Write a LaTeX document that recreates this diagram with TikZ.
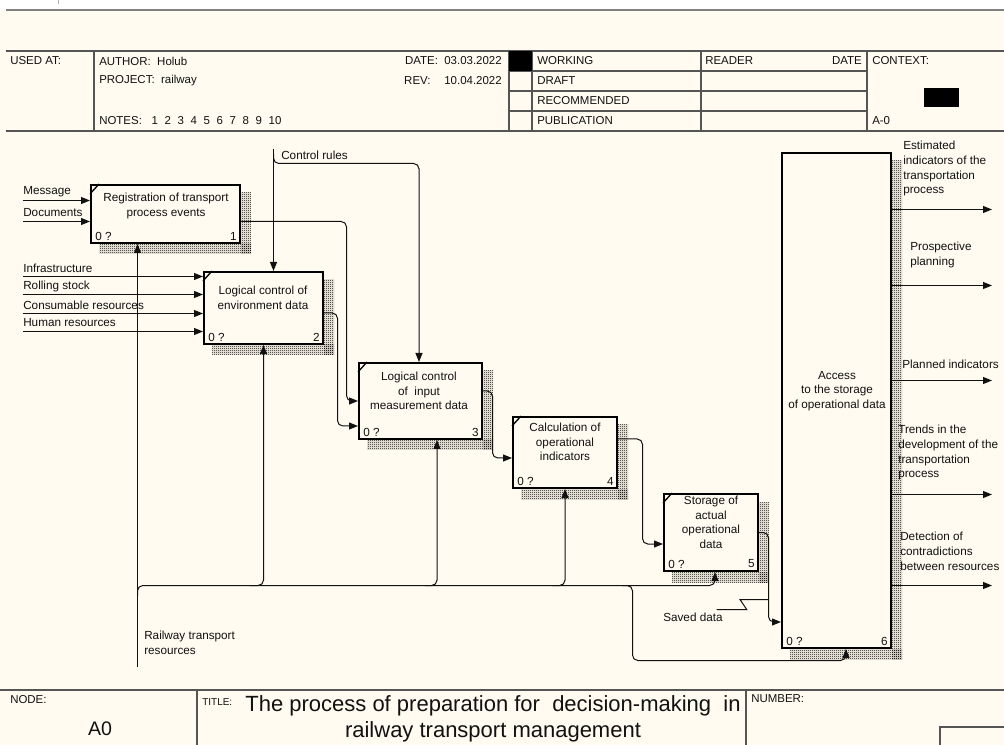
\documentclass[tikz,border=0pt]{standalone}
\usepackage{fontspec}
\setmainfont{Liberation Sans}
\usetikzlibrary{arrows.meta,calc,patterns,fit,backgrounds}

\definecolor{paper}{HTML}{FFFBF0}
\definecolor{ink}{HTML}{111111}
\definecolor{rulec}{HTML}{555555}

% fine checkerboard used for the box shadows
\pgfdeclarepatternformonly{dither}{\pgfpointorigin}{\pgfpoint{1.5pt}{1.5pt}}{\pgfpoint{1.5pt}{1.5pt}}{%
  \pgfpathrectangle{\pgfpointorigin}{\pgfpoint{0.75pt}{0.75pt}}%
  \pgfpathrectangle{\pgfpoint{0.75pt}{0.75pt}}{\pgfpoint{0.75pt}{0.75pt}}%
  \pgfusepath{fill}}

\newcommand{\ngap}{\hspace{0.58em}}

\tikzset{
  lbl/.style={font=\fontsize{8.8pt}{10.9pt}\selectfont, inner sep=0pt, text=ink},
  hdr/.style={font=\fontsize{8.6pt}{10.5pt}\selectfont, inner sep=0pt, text=ink},
  boxtxt/.style={lbl, align=center, anchor=north},
  outtxt/.style={lbl, align=left, anchor=north west, font=\fontsize{8.8pt}{11pt}\selectfont},
  actbox/.style={draw=black, line width=1.5pt, fill=paper, inner sep=0pt},
  shade/.style={pattern=dither, pattern color=black},
  conn/.style={draw=ink, line width=0.75pt, rounded corners=4pt},
  arr/.style={-{Triangle[length=6.75pt,width=5.25pt]}},
  rul/.style={draw=rulec, line width=0.9pt},
}

\begin{document}
\begin{tikzpicture}[x=0.75pt,y=-0.75pt]
\useasboundingbox (0,0) rectangle (1004,745);

% ---------- activity boxes ----------
\node[actbox, fit={(91,185)(240,243)}] (b1) {};
\node[actbox, fit={(204,272)(323,344)}] (b2) {};
\node[actbox, fit={(359,363)(482,439)}] (b3) {};
\node[actbox, fit={(513,417)(617,488)}] (b4) {};
\node[actbox, fit={(664,494)(758,571)}] (b5) {};
\node[actbox, fit={(782,153)(891,648)}] (b6) {};

% paper and box shadows behind everything
\begin{scope}[on background layer]
  \fill[white] (0,0) rectangle (1004,10);
  \fill[paper] (0,10) rectangle (1004,745);
  \foreach \b in {b1,b2,b3,b4,b5,b6}{
    \fill[shade] ($(\b.north east)+(0,9)$) rectangle ($(\b.south east)+(10,10)$);
    \fill[shade] ($(\b.south west)+(9,0)$) rectangle ($(\b.south east)+(10,10)$);
  }
\end{scope}

% corner marks of the decomposed activities
\foreach \b in {b1,b2,b3,b4,b5}{
  \draw[line width=1pt] ($(\b.north west)+(0,10)$) -- ($(\b.north west)+(9,0)$);
}

% box texts
\node[boxtxt] (t1) at (166,193) {Registration of transport\\process events};
\node[boxtxt] (t2) at (263,286) {Logical control of\\environment data};
\node[boxtxt] (t3) at (419,372) {Logical control\\of\ \ input\\measurement data};
\node[boxtxt] (t4) at (565,423) {Calculation of\\operational\\indicators};
\node[boxtxt] (t5) at (711,496) {Storage of\\actual\\operational\\data};
\node[boxtxt] (t6) at (837,371) {Access\\to the storage\\of operational data};

\foreach \b/\n in {b1/1,b2/2,b3/3,b4/4,b5/5,b6/6}{
  \node[lbl, anchor=west] (\b q) at ($(\b.south west)+(5,-8)$) {0 ?};
  \node[lbl, anchor=east] (\b n) at ($(\b.south east)+(-4,-8)$) {\n};
}

% ---------- inputs ----------
\coordinate (iMsg) at (23,200.5);
\coordinate (iDoc) at (23,221.5);
\coordinate (iInf) at (23,276.5);
\coordinate (iRol) at (23,294.5);
\coordinate (iCon) at (23,313.5);
\coordinate (iHum) at (23,331.5);
\draw[conn,arr] (iMsg) -- (iMsg -| b1.west);
\draw[conn,arr] (iDoc) -- (iDoc -| b1.west);
\draw[conn,arr] (iInf) -- (iInf -| b2.west);
\draw[conn,arr] (iRol) -- (iRol -| b2.west);
\draw[conn,arr] (iCon) -- (iCon -| b2.west);
\draw[conn,arr] (iHum) -- (iHum -| b2.west);
\node[lbl, anchor=west] (lMsg) at (23,192) {Message};
\node[lbl, anchor=west] (lDoc) at (23,213) {Documents};
\node[lbl, anchor=west] (lInf) at (23,268) {Infrastructure};
\node[lbl, anchor=west] (lRol) at (23,286) {Rolling stock};
\node[lbl, anchor=west] (lCon) at (23,305) {Consumable resources};
\node[lbl, anchor=west] (lHum) at (23,323) {Human resources};

% ---------- controls ----------
\coordinate (cTop) at (273.5,149);
\coordinate (cSplit) at (273.5,154);
\draw[conn,arr] (cTop) -- (cTop |- b2.north);
\draw[conn,arr] (cSplit) -- (273.5,163.5) -| ($(b3.north)+(-1.5,0)$);
\node[lbl, anchor=west] (lCtrl) at (281,155) {Control rules};

% ---------- flows between activities ----------
\draw[conn,arr] ($(b1.east)+(0,7.5)$) -- (346.5,221.5) -- (346.5,401) -- (b3.west);
\draw[conn,arr] ($(b2.east)+(0,5)$) -- (337.5,313) -- (337.5,426) -- ($(b3.west)+(0,25)$);
\draw[conn,arr] ($(b3.east)+(0,-10)$) -- (492.5,391) -- (492.5,458) -- ($(b4.west)+(0,5.5)$);
\draw[conn,arr] ($(b4.east)+(0,-13.5)$) -- (642.5,439) -- (642.5,544) -- ($(b5.west)+(0,11.5)$);
\draw[conn,arr] (b5.east) -- (768.5,532.5) -- (768.5,622) -- ($(b6.west)+(0,221.5)$);

% saved data squiggle
\draw[draw=ink, line width=0.75pt] (716.7,609.5) -- (746.7,609.5) -- (740,599.5) -- (768.5,599.5);
\node[lbl, anchor=west] (lSaved) at (663,617) {Saved data};

% ---------- mechanism ----------
\coordinate (mech) at (137.5,667);
\draw[conn,arr] (mech) -- (mech |- b1.south);
\draw[conn,arr] (137.5,596) -- (137.5,585.5) -| ($(b5.south)+(4,0)$);
\draw[conn,arr] (250,585.5) -| (b2.south);
\draw[conn,arr] (425,585.5) -| ($(b3.south)+(16.5,0)$);
\draw[conn,arr] (552,585.5) -| (b4.south);
\draw[conn,arr] (622,585.5) -- (632.5,585.5) -- (632.5,660.5) -| ($(b6.south)+(9.5,0)$);
\node[lbl, anchor=north west, align=left] (lRail) at (144,631) {Railway transport\\resources};

% ---------- outputs ----------
\foreach \y [count=\i] in {209.5,285.5,380.5,494.5,585.5}{
  \coordinate (o\i) at (992,\y);
  \draw[conn,arr] (b6.east |- o\i) -- (o\i);
}
\node[outtxt] (lo1) at (903,141) {Estimated\\indicators of the\\transportation\\process};
\node[outtxt] (lo2) at (910,242) {Prospective\\planning};
\node[lbl, anchor=west] (lo3) at (902,364) {Planned indicators};
\node[outtxt] (lo4) at (898,425) {Trends in the\\development of the\\transportation\\process};
\node[outtxt] (lo5) at (900,532) {Detection of\\contradictions\\between resources};

% ---------- header frame ----------
\draw[draw=gray, line width=1.5pt] (6,10) -- (1004,10);
\draw[draw=gray!60, line width=0.6pt] (58,0) -- (58,4);
\draw[rul] (6,51) -- (1004,51) (6,131) -- (1004,131)
  (94,51) -- (94,131) (509,51) -- (509,131) (532,51) -- (532,131)
  (701,51) -- (701,131) (867,51) -- (867,131)
  (509,71) -- (867,71) (509,91) -- (867,91) (509,111) -- (867,111);
\fill[black] (509,51) rectangle (532,71);
\fill[black] (924,88) rectangle (959,107);

\node[hdr, anchor=west] (hUsed) at (10,61) {USED AT:};
\node[hdr, anchor=west] (hAuth) at (99,61) {AUTHOR:\ \ Holub};
\node[hdr, anchor=west] (hProj) at (99,80.5) {PROJECT:\ \ railway};
\node[hdr, anchor=west] (hNotes) at (99,121) {NOTES:\ \ \ 1\ngap2\ngap3\ngap4\ngap5\ngap6\ngap7\ngap8\ngap9\ngap10};
\node[hdr, anchor=east] (hDate) at (502,61) {DATE:\ \ 03.03.2022};
\node[hdr, anchor=east] (hRev) at (502,80.5) {REV:\hspace{1.2em}10.04.2022};
\node[hdr, anchor=west] (hWork) at (537,61) {WORKING};
\node[hdr, anchor=west] (hDraft) at (537,81) {DRAFT};
\node[hdr, anchor=west] (hRec) at (537,101) {RECOMMENDED};
\node[hdr, anchor=west] (hPub) at (537,121) {PUBLICATION};
\node[hdr, anchor=west] (hRead) at (705,61) {READER};
\node[hdr, anchor=east] (hRDate) at (862,61) {DATE};
\node[hdr, anchor=west] (hCtx) at (872,61) {CONTEXT:};
\node[hdr, anchor=west] (hA0) at (872,121) {A-0};

% ---------- footer frame ----------
\draw[rul] (0,690) -- (1004,690) (197,690) -- (197,745) (746,690) -- (746,745);
\draw[rul] (940,745) -- (940,727) -- (1004,727);
\node[hdr, anchor=west] (fNode) at (10,700) {NODE:};
\node[inner sep=0pt, anchor=base, text=ink, font=\fontsize{14.7pt}{16pt}\selectfont] (fA0) at (100,735) {A0};
\node[inner sep=0pt, anchor=west, text=ink, font=\fontsize{7.5pt}{9pt}\selectfont] (fTitleK) at (202,702) {TITLE:};
\node[inner sep=0pt, anchor=north, align=center, text=ink, font=\fontsize{16.5pt}{19.5pt}\selectfont] (fTitle) at (493,695) {The process of preparation for\ \ decision-making\ \ in\\railway transport management};
\node[hdr, anchor=west] (fNum) at (751,699) {NUMBER:};

\end{tikzpicture}
\end{document}
